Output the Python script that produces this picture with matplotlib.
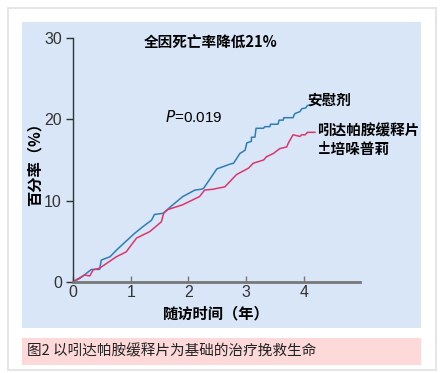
import matplotlib.pyplot as plt
from matplotlib.patches import Rectangle

plt.rcParams['font.family'] = ['Noto Sans CJK SC', 'DejaVu Sans']

# 随访时间（年） vs 百分率（%）
placebo_x = [0, 0.12, 0.32, 0.46, 0.49, 0.64, 0.75, 0.87, 1.07, 1.21, 1.36, 1.41,
             1.56, 1.73, 1.9, 2.11, 2.22, 2.26, 2.49, 2.72, 2.78, 2.89, 2.98,
             3.01, 3.09, 3.09, 3.15, 3.17, 3.3, 3.32, 3.41, 3.42, 3.55, 3.57,
             3.64, 3.65, 3.81, 3.84, 3.93, 3.96, 4.03, 4.06, 4.13]
placebo_y = [0, 0.45, 1.55, 1.55, 2.7, 3.1, 3.9, 4.7, 6.0, 6.8, 7.6, 8.3,
             8.45, 9.5, 10.5, 11.3, 11.4, 11.5, 13.9, 14.5, 14.6, 15.8, 16.2,
             17.1, 17.3, 17.8, 17.8, 18.9, 18.9, 19.1, 19.1, 19.4, 19.4, 19.9,
             19.9, 20.2, 20.2, 20.7, 20.95, 21.3, 21.4, 21.7, 21.8]

drug_x = [0, 0.06, 0.2, 0.29, 0.35, 0.46, 0.75, 0.92, 1.1, 1.33, 1.53, 1.57,
          1.64, 1.9, 2.19, 2.28, 2.42, 2.63, 2.83, 3.04, 3.12, 3.3, 3.35, 3.47,
          3.58, 3.7, 3.73, 3.81, 3.93, 3.96, 4.02, 4.06, 4.19]
drug_y = [0, 0.3, 0.85, 0.75, 1.5, 1.7, 3.1, 3.7, 5.4, 6.2, 7.4, 8.45,
          8.9, 9.5, 10.5, 11.3, 11.4, 11.7, 13.2, 14.0, 14.6, 15.0, 15.4, 15.8,
          16.4, 16.6, 17.1, 18.1, 17.9, 18.1, 18.1, 18.4, 18.4]

xticks = [0, 1, 2, 3, 4]
yticks = [0, 10, 20, 30]

W, H = 443, 373
fig = plt.figure(figsize=(W / 100, H / 100), dpi=100)
fig.patch.set_facecolor('white')

# background panels
fig.add_artist(Rectangle((8 / W, 1 - 370 / H), 428 / W, 362 / H, transform=fig.transFigure,
                         facecolor='white', edgecolor='#e6e6e6', lw=1.5, zorder=-10))
fig.add_artist(Rectangle((22 / W, 1 - 328 / H), 399 / W, 306 / H, transform=fig.transFigure,
                         facecolor='#d8e6f8', edgecolor='none', zorder=-9))
fig.add_artist(Rectangle((22 / W, 1 - 365 / H), 399 / W, 27 / H, transform=fig.transFigure,
                         facecolor='#fdd9d9', edgecolor='none', zorder=-9))

x0, x1 = 73, 360
y0, y1 = 282, 38
ax = fig.add_axes([x0 / W, 1 - y0 / H, (x1 - x0) / W, (y0 - y1) / H])
ax.set_facecolor('none')

ax.plot(placebo_x, placebo_y, color='#2f7db6', lw=1.1)
ax.plot(drug_x, drug_y, color='#e0356b', lw=1.1)

ax.set_xlim(0, 4.97)
ax.set_ylim(0, 30)
ax.set_xticks(xticks)
ax.set_yticks(yticks)
ax.tick_params(axis='x', direction='in', length=4, width=1, colors='#777777',
               labelcolor='#333333', labelsize=11.5, pad=2)
ax.tick_params(axis='y', direction='out', length=5, width=1, colors='#333333',
               labelcolor='#333333', labelsize=11.5, pad=3)
for lab in ax.get_xticklabels() + ax.get_yticklabels():
    lab.set_family('Liberation Sans')
for s in ['top', 'right']:
    ax.spines[s].set_visible(False)
ax.spines['bottom'].set_color('#777777')
ax.spines['bottom'].set_linewidth(2)
ax.spines['left'].set_color('#333333')
ax.spines['left'].set_linewidth(1)

ax.set_xlabel('随访时间（年）', fontsize=11, fontweight='bold', labelpad=4)
ax.set_ylabel('百分率（%）', fontsize=11, fontweight='bold', labelpad=1)

ax.text(211 / W, 1 - 43 / H, '全因死亡率降低21%', transform=fig.transFigure,
        fontsize=10.5, fontweight='bold', ha='center', va='center')
ax.text(165 / W, 1 - 117 / H, '$P$=0.019', transform=fig.transFigure,
        fontsize=11, ha='left', va='center', family='Liberation Sans')
ax.text(307 / W, 1 - 100 / H, '安慰剂', transform=fig.transFigure,
        fontsize=10.5, fontweight='bold', ha='left', va='center')
ax.text(317 / W, 1 - 140 / H, '吲达帕胺缓释片\n±培哚普莉', transform=fig.transFigure,
        fontsize=10.5, fontweight='bold', ha='left', va='center', linespacing=1.2)

fig.text(27 / W, 1 - 351 / H, '图2 以吲达帕胺缓释片为基础的治疗挽救生命',
         fontsize=10.5, ha='left', va='center', color='#222222')

fig.savefig('out.png', dpi=100)
